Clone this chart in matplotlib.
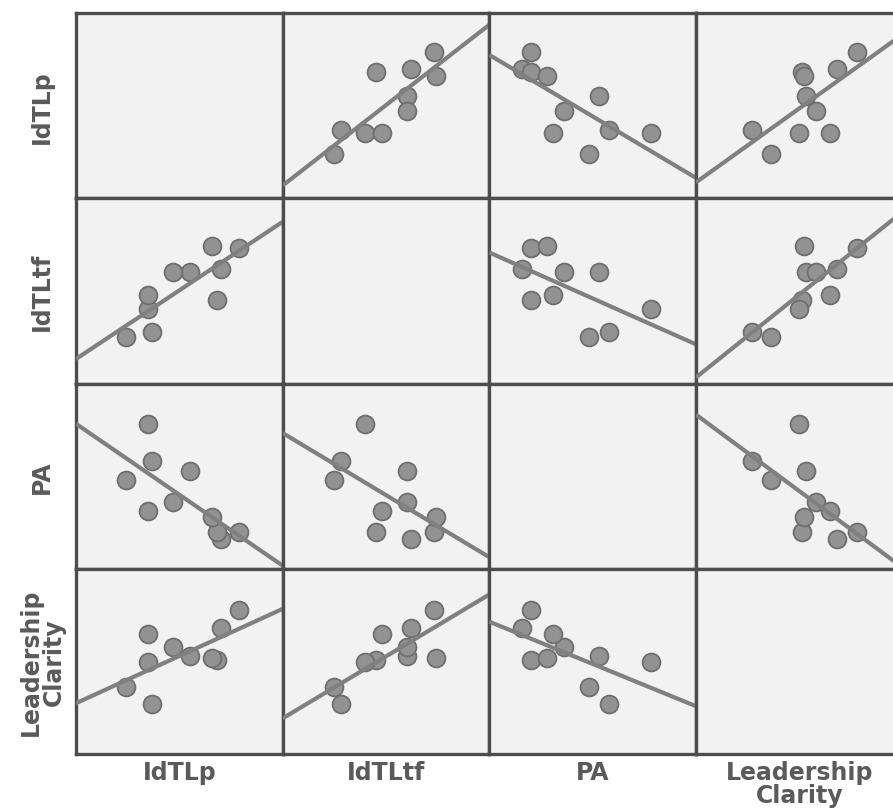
#!/usr/bin/env python3
"""
plot.py — scatterplot matrix of the four leadership scales with fit lines.

Values are on a 0..1 scale (position inside each panel), one entry per case.
"""
import numpy as np
import matplotlib
matplotlib.use("Agg")
import matplotlib.pyplot as plt

LABELS = ["IdTLp", "IdTLtf", "PA", "Leadership\nClarity"]

idtlp = [0.79, 0.70, 0.68, 0.66, 0.55, 0.47, 0.37, 0.35, 0.35, 0.24]
idtltf = [0.73, 0.62, 0.45, 0.74, 0.60, 0.60, 0.28, 0.40, 0.48, 0.25]
pa = [0.20, 0.16, 0.20, 0.28, 0.53, 0.36, 0.58, 0.78, 0.31, 0.48]
clarity = [0.78, 0.68, 0.51, 0.52, 0.53, 0.58, 0.27, 0.50, 0.65, 0.36]

VARS = [idtlp, idtltf, pa, clarity]

W, H = 893, 812
X0, Y0 = 76, 14          # top-left corner of the grid, px
CW, CH = 206.7, 185.3    # panel size, px (last column runs off the canvas)
TXT = "#5a5a5a"


def main():
    fig = plt.figure(figsize=(W / 100, H / 100), dpi=100)
    n = len(VARS)
    for i in range(n):
        for j in range(n):
            left = (X0 + j * CW) / W
            bottom = 1 - (Y0 + (i + 1) * CH) / H
            ax = fig.add_axes([left, bottom, CW / W, CH / H])
            ax.set_facecolor("#f2f2f2")
            ax.set_xlim(0, 1); ax.set_ylim(0, 1)
            ax.set_xticks([]); ax.set_yticks([])
            for s in ax.spines.values():
                s.set_color("#4d4d4d"); s.set_linewidth(2.4)
            if i == j:
                continue
            x = np.array(VARS[j]); y = np.array(VARS[i])
            ax.scatter(x, y, s=165, facecolor="#929292", edgecolor="#6e6e6e",
                       linewidth=1.3, zorder=2)
            b, a = np.polyfit(x, y, 1)
            xs = np.array([0.0, 1.0])
            ax.plot(xs, a + b * xs, color="#808080", lw=3.0,
                    solid_capstyle="butt", zorder=3)

    font = dict(fontsize=17, fontweight="bold", color=TXT, family="DejaVu Sans")
    for k, lab in enumerate(LABELS):
        # row labels, rotated, left of the grid
        yc = 1 - (Y0 + (k + 0.5) * CH) / H
        fig.text(42 / W, yc, lab, rotation=90, ha="center", va="center",
                 multialignment="center", linespacing=0.95, **font)
        # column labels under the grid
        xc = (X0 + (k + 0.5) * CW) / W
        fig.text(xc, 1 - 761 / H, lab, ha="center", va="top",
                 multialignment="center", linespacing=0.95, **font)

    fig.savefig("out.png", dpi=100, facecolor="white")
    plt.close(fig)


if __name__ == "__main__":
    main()
